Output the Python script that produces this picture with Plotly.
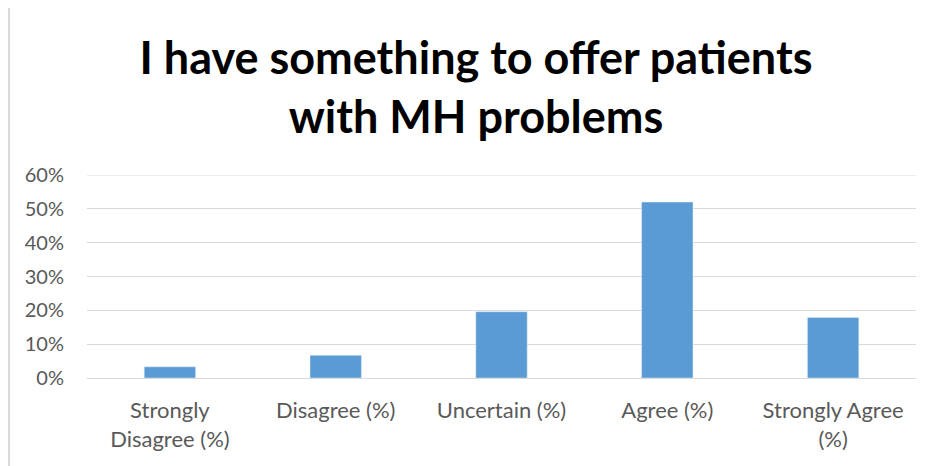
import plotly.graph_objects as go

categories = ["Strongly<br>Disagree (%)", "Disagree (%)", "Uncertain (%)", "Agree (%)", "Strongly Agree<br>(%)"]
values = [0.033, 0.067, 0.196, 0.520, 0.179]
y_ticks = [0, 0.1, 0.2, 0.3, 0.4, 0.5, 0.6]
y_labels = ["0%", "10%", "20%", "30%", "40%", "50%", "60%"]

fig = go.Figure()
fig.add_trace(go.Bar(x=categories, y=values, marker=dict(color="#5b9bd5"), width=0.31))

fig.update_layout(
    width=933, height=466,
    paper_bgcolor="white", plot_bgcolor="white",
    margin=dict(l=79, r=25, t=167, b=96),
    showlegend=False,
    font=dict(family="Lato, Open Sans, sans-serif", color="#595959", size=20),
    title=dict(
        text="I have something to offer patients<br>with MH problems",
        x=0.5016, xanchor="center", y=0.858, yanchor="middle",
        font=dict(family="Lato, Open Sans, sans-serif", size=45, color="black", weight="bold"),
    ),
)
fig.update_xaxes(showline=False, ticks="", tickfont=dict(size=22), showgrid=False, ticklabelstandoff=17)
fig.update_yaxes(
    range=[0, 0.6], tickvals=y_ticks, ticktext=y_labels,
    showgrid=True, gridcolor="#d9d9d9", gridwidth=1,
    zeroline=True, zerolinecolor="#d9d9d9", zerolinewidth=1,
    ticks="", ticklabelstandoff=22, tickfont=dict(size=20),
)
# top gridline (at the range edge)
fig.add_shape(type="line", xref="paper", yref="y", x0=0, x1=1, y0=y_ticks[-1], y1=y_ticks[-1],
              line=dict(color="#d9d9d9", width=1), layer="below")
# chart frame edge on the left
fig.add_shape(type="line", xref="paper", yref="paper", x0=-0.094, x1=-0.094, y0=-0.473, y1=1.823,
              line=dict(color="#d9d9d9", width=2))

fig.write_html("out.html")
